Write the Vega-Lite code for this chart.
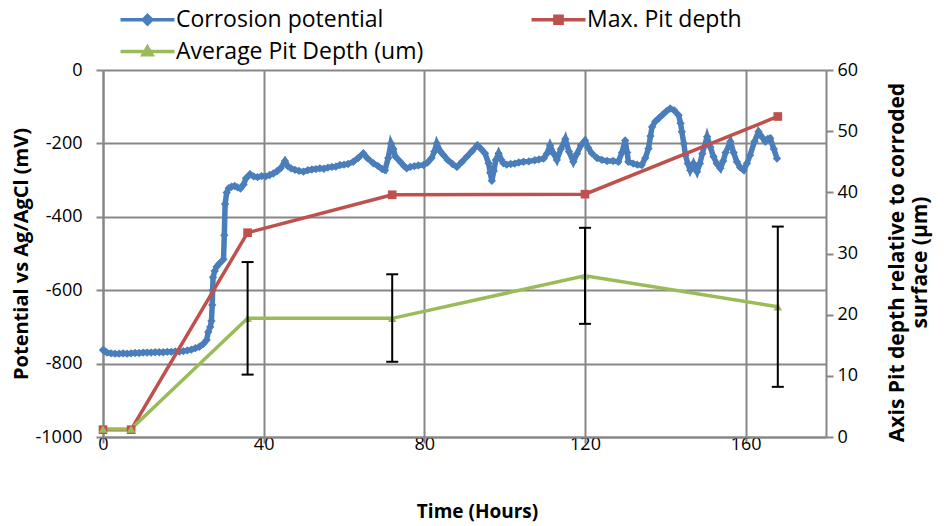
{
  "$schema": "https://vega.github.io/schema/vega-lite/v6.json",
  "width": 723,
  "height": 367,
  "autosize": "none",
  "padding": {"left": 103, "top": 70, "right": 120, "bottom": 89},
  "background": "white",
  "config": {
    "view": {"stroke": null},
    "font": "Open Sans",
    "axis": {
      "labelFont": "Open Sans",
      "labelFontSize": 18,
      "labelColor": "#000000",
      "labelFlush": false,
      "titleFont": "Open Sans",
      "titleFontSize": 20,
      "titleFontWeight": "bold",
      "titleColor": "#000000",
      "domainColor": "#878787",
      "domainWidth": 2,
      "tickColor": "#878787",
      "tickWidth": 2,
      "tickSize": 7,
      "gridColor": "#878787",
      "gridWidth": 2,
      "gridOpacity": 1
    }
  },
  "datasets": {
    "cp": [
      {"hours": 0, "mv": -763}, {"hours": 0.5, "mv": -766}, {"hours": 1, "mv": -770}, {"hours": 2, "mv": -772},
      {"hours": 3, "mv": -773}, {"hours": 4, "mv": -773}, {"hours": 5, "mv": -772}, {"hours": 6, "mv": -773},
      {"hours": 7, "mv": -772}, {"hours": 8, "mv": -771}, {"hours": 9, "mv": -771}, {"hours": 10, "mv": -770},
      {"hours": 11, "mv": -770}, {"hours": 12, "mv": -770}, {"hours": 13, "mv": -769}, {"hours": 14, "mv": -769},
      {"hours": 15, "mv": -769}, {"hours": 16, "mv": -768}, {"hours": 17, "mv": -768}, {"hours": 18, "mv": -767},
      {"hours": 19, "mv": -767}, {"hours": 20, "mv": -766}, {"hours": 21, "mv": -764}, {"hours": 22, "mv": -762},
      {"hours": 23, "mv": -758}, {"hours": 24, "mv": -754}, {"hours": 25, "mv": -746}, {"hours": 25.8, "mv": -736},
      {"hours": 26.2, "mv": -714}, {"hours": 26.7, "mv": -700}, {"hours": 27, "mv": -684}, {"hours": 27.2, "mv": -640},
      {"hours": 27.3, "mv": -600}, {"hours": 27.4, "mv": -565}, {"hours": 27.8, "mv": -548}, {"hours": 28.3, "mv": -536},
      {"hours": 29, "mv": -527}, {"hours": 30, "mv": -516}, {"hours": 30.2, "mv": -450}, {"hours": 30.4, "mv": -365},
      {"hours": 30.8, "mv": -334}, {"hours": 31.3, "mv": -322}, {"hours": 32, "mv": -318}, {"hours": 32.8, "mv": -316},
      {"hours": 33.5, "mv": -320}, {"hours": 34.2, "mv": -323}, {"hours": 35, "mv": -312}, {"hours": 35.6, "mv": -295},
      {"hours": 36.6, "mv": -284}, {"hours": 37.5, "mv": -290}, {"hours": 38.5, "mv": -292}, {"hours": 39.5, "mv": -289},
      {"hours": 40.5, "mv": -290}, {"hours": 41.5, "mv": -286}, {"hours": 42.4, "mv": -282}, {"hours": 43.3, "mv": -276},
      {"hours": 44.2, "mv": -268}, {"hours": 45.3, "mv": -248}, {"hours": 46, "mv": -262}, {"hours": 46.8, "mv": -268},
      {"hours": 47.8, "mv": -272}, {"hours": 48.8, "mv": -275}, {"hours": 49.9, "mv": -277}, {"hours": 51, "mv": -273},
      {"hours": 52, "mv": -271}, {"hours": 53, "mv": -270}, {"hours": 54, "mv": -268}, {"hours": 55, "mv": -269},
      {"hours": 56, "mv": -266}, {"hours": 57, "mv": -264}, {"hours": 58, "mv": -263}, {"hours": 59, "mv": -259},
      {"hours": 60, "mv": -258}, {"hours": 61, "mv": -256}, {"hours": 62.3, "mv": -250}, {"hours": 63.5, "mv": -240},
      {"hours": 64.8, "mv": -227}, {"hours": 65.8, "mv": -240}, {"hours": 67.3, "mv": -254}, {"hours": 68.5, "mv": -262},
      {"hours": 69.5, "mv": -270}, {"hours": 70.2, "mv": -273}, {"hours": 71, "mv": -240}, {"hours": 71.7, "mv": -200},
      {"hours": 72.3, "mv": -215}, {"hours": 72.8, "mv": -236}, {"hours": 74, "mv": -250}, {"hours": 75, "mv": -262},
      {"hours": 75.6, "mv": -268}, {"hours": 76.5, "mv": -264}, {"hours": 77.5, "mv": -262}, {"hours": 78.5, "mv": -260},
      {"hours": 79.8, "mv": -259}, {"hours": 80.8, "mv": -252}, {"hours": 81.8, "mv": -240}, {"hours": 82.5, "mv": -222},
      {"hours": 83.1, "mv": -200}, {"hours": 84, "mv": -222}, {"hours": 84.8, "mv": -232}, {"hours": 85.8, "mv": -245},
      {"hours": 87, "mv": -256}, {"hours": 88.1, "mv": -264}, {"hours": 89.4, "mv": -250}, {"hours": 90.6, "mv": -236},
      {"hours": 91.8, "mv": -222}, {"hours": 93.2, "mv": -205}, {"hours": 94.2, "mv": -216}, {"hours": 95.1, "mv": -227},
      {"hours": 96, "mv": -254}, {"hours": 96.4, "mv": -280}, {"hours": 96.8, "mv": -302}, {"hours": 97.3, "mv": -275},
      {"hours": 97.8, "mv": -245}, {"hours": 98.5, "mv": -227}, {"hours": 99.2, "mv": -245}, {"hours": 99.7, "mv": -254},
      {"hours": 100.5, "mv": -258}, {"hours": 101.5, "mv": -256}, {"hours": 102.5, "mv": -255}, {"hours": 103.5, "mv": -252},
      {"hours": 104.7, "mv": -250}, {"hours": 106, "mv": -249}, {"hours": 107.5, "mv": -246}, {"hours": 108.5, "mv": -244},
      {"hours": 109.7, "mv": -241}, {"hours": 110.5, "mv": -228}, {"hours": 111.3, "mv": -205}, {"hours": 112.2, "mv": -228},
      {"hours": 113, "mv": -245}, {"hours": 114, "mv": -215}, {"hours": 115.1, "mv": -188}, {"hours": 116, "mv": -222},
      {"hours": 117.1, "mv": -250}, {"hours": 118, "mv": -228}, {"hours": 119, "mv": -205}, {"hours": 120, "mv": -192},
      {"hours": 120.8, "mv": -212}, {"hours": 121.7, "mv": -227}, {"hours": 123, "mv": -240}, {"hours": 124.2, "mv": -245},
      {"hours": 125.5, "mv": -248}, {"hours": 127, "mv": -248}, {"hours": 128.3, "mv": -250}, {"hours": 129.2, "mv": -225},
      {"hours": 130, "mv": -192}, {"hours": 130.5, "mv": -225}, {"hours": 130.8, "mv": -250}, {"hours": 132, "mv": -255},
      {"hours": 133, "mv": -258}, {"hours": 134.1, "mv": -259}, {"hours": 135, "mv": -240}, {"hours": 135.8, "mv": -214},
      {"hours": 136.3, "mv": -180}, {"hours": 136.7, "mv": -155}, {"hours": 137.5, "mv": -140}, {"hours": 138.3, "mv": -132},
      {"hours": 139.3, "mv": -122}, {"hours": 140.3, "mv": -112}, {"hours": 141.2, "mv": -105}, {"hours": 142.2, "mv": -110},
      {"hours": 143.3, "mv": -123}, {"hours": 143.8, "mv": -145}, {"hours": 144.1, "mv": -168}, {"hours": 144.6, "mv": -200},
      {"hours": 145, "mv": -232}, {"hours": 145.6, "mv": -255}, {"hours": 146.2, "mv": -273}, {"hours": 147, "mv": -255},
      {"hours": 147.9, "mv": -277}, {"hours": 148.6, "mv": -255}, {"hours": 149.2, "mv": -228}, {"hours": 150.4, "mv": -182},
      {"hours": 151.2, "mv": -210}, {"hours": 152, "mv": -236}, {"hours": 152.8, "mv": -255}, {"hours": 153.7, "mv": -268},
      {"hours": 154.4, "mv": -248}, {"hours": 155, "mv": -225}, {"hours": 156.2, "mv": -195}, {"hours": 157, "mv": -225},
      {"hours": 157.8, "mv": -250}, {"hours": 158.6, "mv": -265}, {"hours": 159.5, "mv": -273}, {"hours": 160.3, "mv": -255},
      {"hours": 161.1, "mv": -232}, {"hours": 162.2, "mv": -195}, {"hours": 163.2, "mv": -168}, {"hours": 164, "mv": -182},
      {"hours": 164.9, "mv": -195}, {"hours": 165.5, "mv": -188}, {"hours": 166.1, "mv": -186}, {"hours": 167, "mv": -215},
      {"hours": 167.8, "mv": -241}
    ],
    "pit": [
      {"series": "Max. Pit depth", "hours": 0, "depth": 1.2},
      {"series": "Max. Pit depth", "hours": 7, "depth": 1.2},
      {"series": "Max. Pit depth", "hours": 36, "depth": 33.4},
      {"series": "Max. Pit depth", "hours": 72, "depth": 39.6},
      {"series": "Max. Pit depth", "hours": 120, "depth": 39.7},
      {"series": "Max. Pit depth", "hours": 168, "depth": 52.4},
      {"series": "Average Pit Depth (um)", "hours": 0, "depth": 1.3},
      {"series": "Average Pit Depth (um)", "hours": 7, "depth": 1.3},
      {"series": "Average Pit Depth (um)", "hours": 36, "depth": 19.4, "lo": 10.2, "hi": 28.6},
      {"series": "Average Pit Depth (um)", "hours": 72, "depth": 19.4, "lo": 12.3, "hi": 26.6},
      {"series": "Average Pit Depth (um)", "hours": 120, "depth": 26.35, "lo": 18.5, "hi": 34.2},
      {"series": "Average Pit Depth (um)", "hours": 168, "depth": 21.3, "lo": 8.2, "hi": 34.4}
    ]
  },
  "encoding": {
    "x": {
      "field": "hours", "type": "quantitative",
      "scale": {"domain": [0, 180], "nice": false},
      "axis": {"values": [0, 40, 80, 120, 160], "grid": true, "title": "Time (Hours)", "titleFontSize": 19, "titleX": 374, "titlePadding": 49, "labelPadding": -8, "tickSize": 6}
    }
  },
  "layer": [
    {
      "data": {"name": "cp"},
      "transform": [{"calculate": "'Corrosion potential'", "as": "series"}],
      "encoding": {
        "y": {
          "field": "mv", "type": "quantitative",
          "scale": {"domain": [-1000, 0], "nice": false},
          "axis": {"values": [-1000, -800, -600, -400, -200, 0], "labelExpr": "datum.value + ''", "grid": true, "title": "Potential vs Ag/AgCl (mV)", "titlePadding": 4, "labelPadding": 14}
        }
      },
      "layer": [
        {
          "mark": {"type": "line", "strokeWidth": 5.5},
          "encoding": {
            "color": {
              "field": "series", "type": "nominal",
              "scale": {"domain": ["Corrosion potential", "Average Pit Depth (um)", "Max. Pit depth"], "range": ["#4a7ebb", "#9bbb59", "#c0504d"]},
              "legend": {
                "orient": "none", "legendX": 16, "legendY": -62, "columns": 2, "title": null,
                "padding": 0, "rowPadding": 8, "columnPadding": 100,
                "symbolSize": 36, "symbolStrokeWidth": 3.5, "symbolOffset": 17, "labelOffset": 17,
                "symbolType": "M-9,0H9",
                "labelFont": "Open Sans", "labelFontSize": 23, "labelColor": "#000000", "labelLimit": 400,
                "encode": {
                  "symbols": {
                    "update": {
                      "shape": {"signal": "datum.value === 'Corrosion potential' ? 'M-9,0H9M0,-1.4L1.4,0L0,1.4L-1.4,0Z' : (datum.value === 'Max. Pit depth' ? 'M-9,0H9M-1.2,-1.2H1.2V1.2H-1.2Z' : 'M-9,0H9M0,-1.5L1.5,1.1H-1.5Z')"},
                      "fill": {"scale": "color", "field": "value"},
                      "fillOpacity": {"value": 1}
                    }
                  }
                }
              }
            }
          }
        },
        {
          "mark": {"type": "point", "shape": "diamond", "filled": true, "size": 70, "color": "#4a7ebb", "opacity": 1}
        }
      ]
    },
    {
      "data": {"name": "pit"},
      "encoding": {
        "y": {
          "field": "depth", "type": "quantitative",
          "scale": {"domain": [0, 60], "nice": false},
          "axis": {"orient": "right", "values": [0, 10, 20, 30, 40, 50, 60], "grid": false, "title": ["Axis Pit depth relative to corroded", "surface (µm)"], "titleAngle": 270, "titleFontSize": 21, "titlePadding": 27, "titleY": 192, "labelPadding": 4}
        }
      },
      "layer": [
        {
          "mark": {"type": "line", "strokeWidth": 3.5},
          "encoding": {
            "color": {"field": "series", "type": "nominal"}
          }
        },
        {
          "transform": [{"filter": "datum.series === 'Max. Pit depth'"}],
          "mark": {"type": "point", "shape": "square", "filled": true, "size": 75, "color": "#c0504d", "opacity": 1}
        },
        {
          "transform": [{"filter": "datum.series === 'Average Pit Depth (um)'"}],
          "mark": {"type": "point", "shape": "triangle-up", "filled": true, "size": 75, "color": "#9bbb59", "opacity": 1}
        },
        {
          "transform": [{"filter": "isValid(datum.lo)"}],
          "mark": {"type": "rule", "color": "#000000", "strokeWidth": 2},
          "encoding": {
            "y": {"field": "lo", "type": "quantitative"},
            "y2": {"field": "hi"}
          }
        },
        {
          "transform": [{"filter": "isValid(datum.lo)"}],
          "mark": {"type": "tick", "orient": "horizontal", "color": "#000000", "size": 12, "thickness": 2, "opacity": 1},
          "encoding": {
            "y": {"field": "lo", "type": "quantitative"}
          }
        },
        {
          "transform": [{"filter": "isValid(datum.hi)"}],
          "mark": {"type": "tick", "orient": "horizontal", "color": "#000000", "size": 12, "thickness": 2, "opacity": 1},
          "encoding": {
            "y": {"field": "hi", "type": "quantitative"}
          }
        }
      ]
    }
  ],
  "resolve": {"scale": {"y": "independent"}}
}
